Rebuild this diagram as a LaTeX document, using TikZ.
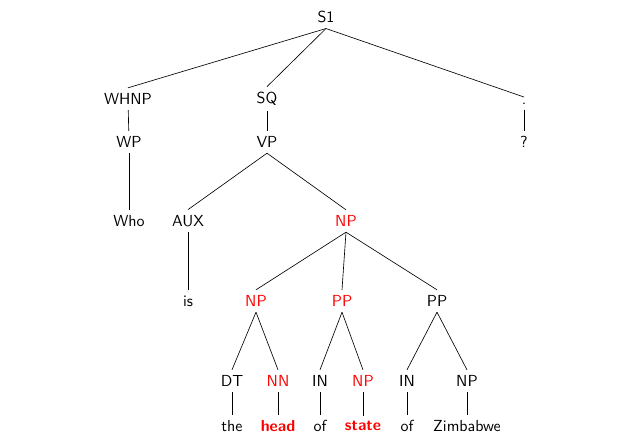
\documentclass[tikz,border=0pt]{standalone}
\begin{document}
\begin{tikzpicture}[x=0.022cm,y=-0.022cm,font=\sffamily,
        redtag/.style={text=red},
        redword/.style={text=red,font=\sffamily\bfseries}]
        \useasboundingbox (0,0) rectangle (621,443);
        % top levels
        \path (326,17) node (s1) {S1};
        \path (128,99) node (whnp) {WHNP};
        \path (267,99) node (sq) {SQ};
        \path (524,104) node [anchor=base] (dot) {.};
        \path (129,142) node (wp) {WP};
        \path (267,142) node (vp) {VP};
        \path (524,142) node (qm) {?};
        \path (129,221) node (who) {Who};
        \path (188,221) node (aux) {AUX};
        \path (346,221) node [redtag] (np) {NP};
        \path (188,301) node (is) {is};
        \path (256,301) node [redtag] (npa) {NP};
        \path (342,301) node [redtag] (ppa) {PP};
        \path (437,301) node (ppb) {PP};
        % preterminals
        \path (232,381) node (dt) {DT};
        \path (278,381) node [redtag] (nn) {NN};
        \path (320,381) node (ina) {IN};
        \path (363,381) node [redtag] (npb) {NP};
        \path (407,381) node (inb) {IN};
        \path (467,381) node (npc) {NP};
        % words
        \path (232,426) node (the) {the};
        \path (278,426) node [redword] (head) {head};
        \path (320,426) node (ofa) {of};
        \path (363,426) node [redword] (state) {state};
        \path (407,426) node (ofb) {of};
        \path (467,426) node (zim) {Zimbabwe};
        % edges
        \draw (s1.south) -- (whnp.north);
        \draw (s1.south) -- (sq.north);
        \draw (s1.south) -- (dot.north);
        \draw (whnp) -- (wp);
        \draw (sq) -- (vp);
        \draw (dot.south) -- (qm.north);
        \draw (wp) -- (who);
        \draw (vp.south) -- (aux.north);
        \draw (vp.south) -- (np.north);
        \draw (aux) -- (is);
        \draw (np.south) -- (npa.north);
        \draw (np.south) -- (ppa.north);
        \draw (np.south) -- (ppb.north);
        \draw (npa.south) -- (dt.north);
        \draw (npa.south) -- (nn.north);
        \draw (ppa.south) -- (ina.north);
        \draw (ppa.south) -- (npb.north);
        \draw (ppb.south) -- (inb.north);
        \draw (ppb.south) -- (npc.north);
        \draw (dt) -- (the);
        \draw (nn) -- (head);
        \draw (ina) -- (ofa);
        \draw (npb) -- (state);
        \draw (inb) -- (ofb);
        \draw (npc) -- (zim);
    \end{tikzpicture}
\end{document}
